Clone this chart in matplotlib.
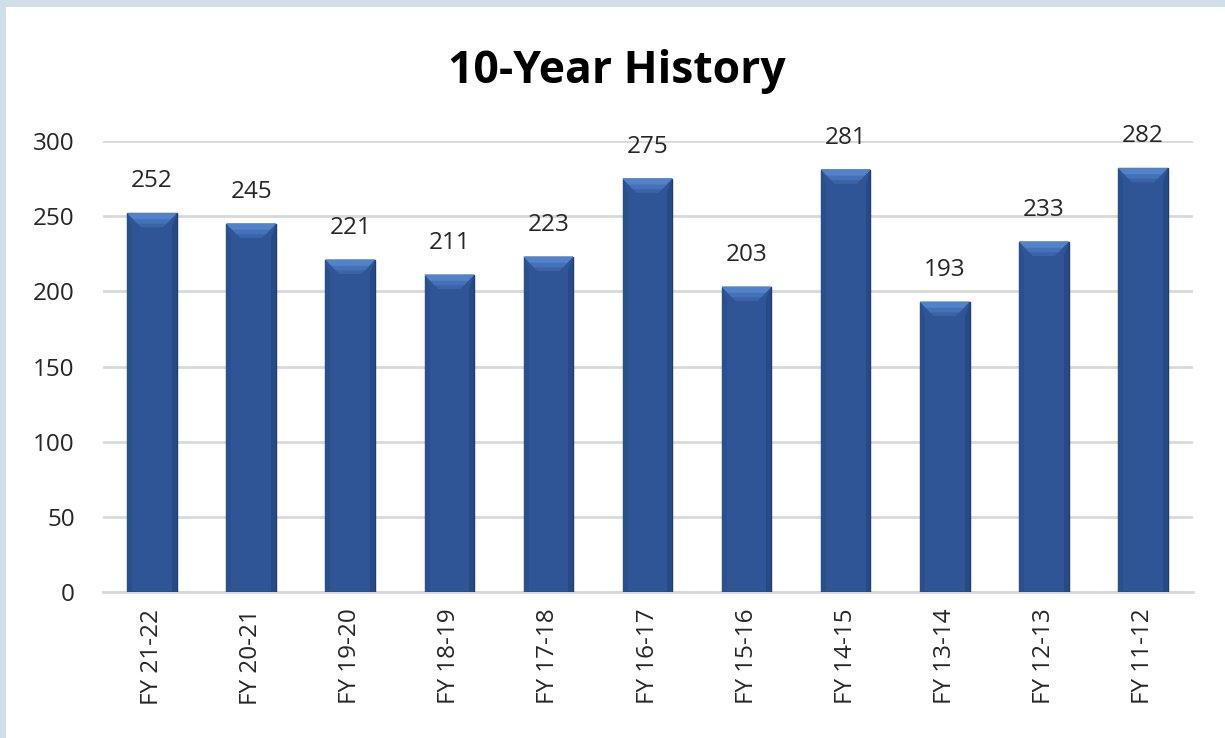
import matplotlib
matplotlib.use("Agg")
import matplotlib.pyplot as plt
from matplotlib.patches import Polygon, Rectangle

categories = ["FY 21-22", "FY 20-21", "FY 19-20", "FY 18-19", "FY 17-18",
              "FY 16-17", "FY 15-16", "FY 14-15", "FY 13-14", "FY 12-13", "FY 11-12"]
values = [252, 245, 221, 211, 223, 275, 203, 281, 193, 233, 282]
yticks = [0, 50, 100, 150, 200, 250, 300]
title = "10-Year History"

plt.rcParams['font.family'] = ['Open Sans', 'DejaVu Sans']

W, H = 1225, 738
fig = plt.figure(figsize=(W / 100, H / 100), dpi=100)
fig.patch.set_facecolor('#cfdfe9')
fig.patches.append(Rectangle((6 / W, 0), 1 - 6 / W, 1 - 7 / H, transform=fig.transFigure,
                             facecolor='white', edgecolor='none', zorder=-10))

ax = fig.add_axes([102.5 / W, 1 - 592 / H, 1090 / W, 451 / H])
ax.set_facecolor('none')
ax.set_zorder(1)

x = list(range(len(categories)))
bw = 0.5
bars = ax.bar(x, values, width=bw, color='#2f5597', edgecolor='#1f3c6e', linewidth=1.0, zorder=3)

# bevel on top of each bar (layered for a soft gradient)
bev_layers = [(0.14, 9.5, '#3b64a8'), (0.10, 7.0, '#4571b8'), (0.06, 4.0, '#5282c9')]
for xi, v in zip(x, values):
    # side shading
    ax.add_patch(Polygon([(xi + bw / 2, v), (xi + bw / 2, 0), (xi + bw / 2 - 0.05, 0),
                          (xi + bw / 2 - 0.05, v - 9.5)], closed=True,
                         facecolor='#264a86', edgecolor='none', zorder=4))
    ax.add_patch(Polygon([(xi - bw / 2, v), (xi - bw / 2, 0), (xi - bw / 2 + 0.05, 0),
                          (xi - bw / 2 + 0.05, v - 9.5)], closed=True,
                         facecolor='#2a4f8e', edgecolor='none', zorder=4))
    for bx, by, col in bev_layers:
        ax.add_patch(Polygon([(xi - bw / 2, v), (xi + bw / 2, v), (xi + bw / 2 - bx, v - by),
                              (xi - bw / 2 + bx, v - by)], closed=True,
                             facecolor=col, edgecolor='none', zorder=4))
    ax.annotate(str(v), (xi, v), xytext=(0, 23), textcoords='offset points',
                ha='center', va='center', fontsize=17.5, color='#262626', zorder=5,
                annotation_clip=False)

ax.set_xlim(-0.5, len(categories) - 0.5)
ax.set_ylim(0, 300)
ax.set_yticks(yticks)
ax.set_yticklabels([str(t) for t in yticks], fontsize=17.5, color='#262626')
ax.set_xticks(x)
ax.set_xticklabels(categories, rotation=90, fontsize=17.5, color='#262626')
ax.tick_params(axis='y', length=0, pad=20)
ax.tick_params(axis='x', length=0, pad=12)

ax.grid(axis='y', color='#d9d9d9', linewidth=2, zorder=1)
for s in ['top', 'right', 'left']:
    ax.spines[s].set_visible(False)
ax.spines['bottom'].set_color('#d9d9d9')
ax.spines['bottom'].set_linewidth(2)
ax.spines['bottom'].set_zorder(2)

fig.text(617 / W, 1 - 72 / H, title, ha='center', va='center', fontsize=32,
         fontweight='bold', color='black')

fig.savefig('out.png', dpi=100, facecolor=fig.get_facecolor())
